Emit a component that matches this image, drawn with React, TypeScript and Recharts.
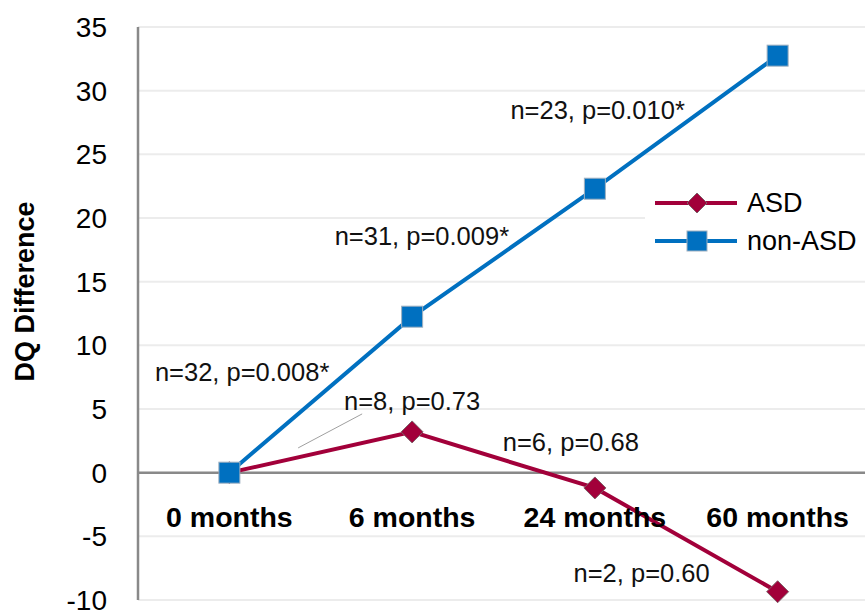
import React from 'react';
import { LineChart, Line, XAxis, YAxis, CartesianGrid, ReferenceLine, Legend, LabelList } from 'recharts';

const categories = ['0 months', '6 months', '24 months', '60 months'];
const asdValues = [0, 3.2, -1.2, -9.35];
const nonAsdValues = [0, 12.25, 22.3, 32.75];
const asdNotes = ['', 'n=8, p=0.73', 'n=6, p=0.68', 'n=2, p=0.60'];
const nonAsdNotes = ['', 'n=32, p=0.008*', 'n=31, p=0.009*', 'n=23, p=0.010*'];
const yTicks = [-10, -5, 0, 5, 10, 15, 20, 25, 30, 35];

const data = categories.map((c, i) => ({
  category: c,
  asd: asdValues[i],
  nonAsd: nonAsdValues[i],
  asdNote: asdNotes[i],
  nonAsdNote: nonAsdNotes[i],
}));

const ASD_COLOR = '#A2003A';
const NON_COLOR = '#0070C0';
const FONT = '"Liberation Sans", Arial, sans-serif';

const nonAsdOffsets = [[0, 0], [-170, 55], [-173, 47], [-180, 54]];
const asdOffsets = [[0, 0], [0, -31], [-24, -46], [-136, -19]];

const getXY = (p: any) => {
  const x = p.x ?? p.viewBox?.x ?? 0;
  const y = p.y ?? p.viewBox?.y ?? 0;
  return [Number(x), Number(y)];
};

const makeNote = (offsets: number[][], leader: boolean) => (p: any) => {
  const [x, y] = getXY(p);
  const i = p.index;
  if (!p.value) return null;
  const [dx, dy] = offsets[i];
  return (
    <g key={`note-${i}`}>
      {leader && i === 1 ? (
        <line x1={x - 114} y1={y + 16} x2={x - 50} y2={y - 18} stroke="#a0a0a0" strokeWidth={1} />
      ) : null}
      <text x={x + dx} y={y + dy} textAnchor="middle" dominantBaseline="central" fontSize={25.5} fontFamily={FONT} fill="#111">
        {p.value}
      </text>
    </g>
  );
};

const renderSquare = (p: any) => (
  <rect key={`sq-${p.index}`} x={p.cx - 10.5} y={p.cy - 10.5} width={21} height={21} fill={NON_COLOR} stroke="#9fb0c0" strokeWidth={1} />
);

const renderDiamond = (p: any) => (
  <polygon
    key={`dm-${p.index}`}
    points={`${p.cx},${p.cy - 11} ${p.cx + 11},${p.cy} ${p.cx},${p.cy + 11} ${p.cx - 11},${p.cy}`}
    fill={ASD_COLOR}
    stroke="#7d6068"
    strokeWidth={1}
  />
);

const renderXTick = (p: any) => (
  <text x={p.x} y={p.y - 73} textAnchor="middle" fontSize={28.5} fontWeight="bold" fontFamily={FONT} fill="#000">
    {p.payload.value}
  </text>
);

const renderYLabel = (p: any) => {
  const vb = p.viewBox || { y: 27, height: 573 };
  const cy = vb.y + vb.height / 2 - 22;
  return (
    <text x={25} y={cy} transform={`rotate(-90, 25, ${cy})`} textAnchor="middle" dominantBaseline="central" fontSize={27} fontWeight="bold" fontFamily={FONT} fill="#000">
      DQ Difference
    </text>
  );
};

const LegendItem = ({ color, label, square }: { color: string; label: string; square: boolean }) => (
  <div style={{ display: 'flex', alignItems: 'center', height: 38 }}>
    <svg width={84} height={24} style={{ display: 'block' }}>
      <line x1={0} y1={12} x2={82} y2={12} stroke={color} strokeWidth={4} />
      {square ? (
        <rect x={32} y={2} width={20} height={20} fill={color} stroke="#9fb0c0" strokeWidth={1} />
      ) : (
        <polygon points="42,2 52,12 42,22 32,12" fill={color} stroke="#7d6068" strokeWidth={1} />
      )}
    </svg>
    <span style={{ marginLeft: 8, fontSize: 27, fontFamily: FONT, color: '#000', lineHeight: '38px' }}>{label}</span>
  </div>
);

const renderLegend = () => (
  <div style={{ background: '#fff', paddingLeft: 10, width: 210 }}>
    <LegendItem color={ASD_COLOR} label="ASD" square={false} />
    <LegendItem color={NON_COLOR} label="non-ASD" square={true} />
  </div>
);

export default function App() {
  return (
    <div style={{ position: 'absolute', left: 0, top: 0, width: 865, height: 616, overflow: 'hidden', background: '#fff' }}>
      <LineChart width={872} height={616} data={data} margin={{ top: 27, right: 3, bottom: 0, left: 0 }}>
        <CartesianGrid vertical={false} stroke="#ececec" strokeWidth={2} />
        <XAxis
          dataKey="category"
          scale="band"
          height={16}
          axisLine={false}
          tickLine={false}
          tickSize={0}
          tickMargin={0}
          tick={renderXTick}
          interval={0}
        />
        <YAxis
          width={138}
          domain={[-10, 35]}
          ticks={yTicks}
          interval={0}
          axisLine={{ stroke: '#898989', strokeWidth: 2.5 }}
          tickLine={false}
          tickSize={0}
          tickMargin={31}
          tick={{ fontSize: 28, fontFamily: FONT, fill: '#000' }}
          label={renderYLabel}
        />
        <ReferenceLine y={0} stroke="#898989" strokeWidth={2.5} />
        <Legend
          content={renderLegend}
          layout="vertical"
          verticalAlign="middle"
          align="center"
          wrapperStyle={{ left: 645, top: 184, width: 220 }}
        />
        <Line
          type="linear"
          dataKey="asd"
          stroke={ASD_COLOR}
          strokeWidth={4}
          dot={renderDiamond}
          activeDot={false}
          isAnimationActive={false}
        >
          <LabelList dataKey="asdNote" content={makeNote(asdOffsets, true)} />
        </Line>
        <Line
          type="linear"
          dataKey="nonAsd"
          stroke={NON_COLOR}
          strokeWidth={4}
          dot={renderSquare}
          activeDot={false}
          isAnimationActive={false}
        >
          <LabelList dataKey="nonAsdNote" content={makeNote(nonAsdOffsets, false)} />
        </Line>
      </LineChart>
    </div>
  );
}
